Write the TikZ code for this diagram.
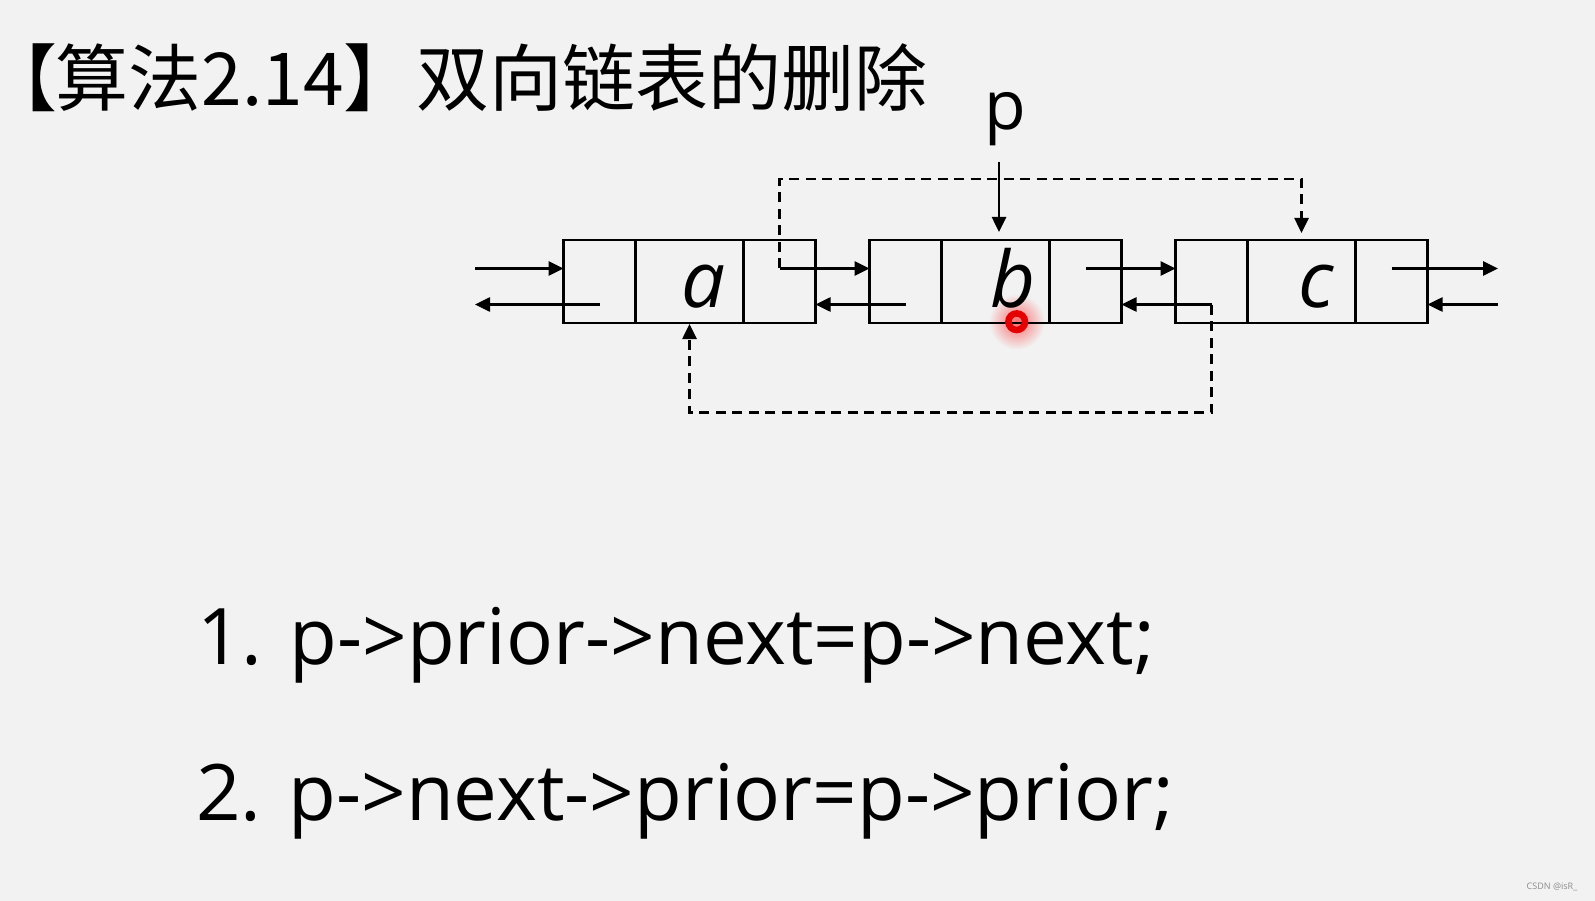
\documentclass[tikz,border=0pt]{standalone}
\usepackage{fontspec}
\setmainfont{Open Sans}
\newfontfamily\cjk{Noto Sans CJK SC}
\newfontfamily\cjkp[RawFeature=+palt]{Noto Sans CJK SC}
\usetikzlibrary{arrows.meta,calc}
\definecolor{bg}{RGB}{242,242,242}
\definecolor{ringred}{RGB}{228,0,0}
\begin{document}
\begin{tikzpicture}[x=1pt,y=-1pt,
  cell/.style={draw, line width=2.6pt, minimum height=83pt, inner sep=0pt, outer sep=0pt, anchor=west},
  lcell/.style={cell, minimum width=72pt},
  dcell/.style={cell, minimum width=108pt},
  ptr/.style={line width=2.6pt, -{Triangle[length=15pt,width=14pt]}},
  dptr/.style={ptr, dash pattern=on 10pt off 6.5pt},
  letter/.style={anchor=base, inner sep=0pt, font=\fontsize{78}{90}\selectfont\itshape},
  code/.style={anchor=base west, inner sep=0pt, font=\fontsize{78}{90}\selectfont},
]
\fill[bg] (0,0) rectangle (1595,901);
\useasboundingbox (0,0) rectangle (1595,901);

% cursor halo (behind)
\shade[inner color=red!55!bg, outer color=bg] (1016.7,321.7) circle (28);

% title
\node[anchor=base west, inner sep=0pt, font=\cjk\fontsize{73}{85}\selectfont] (title) at (19,106) {{\cjkp【}算法2.14】双向链表的删除};

% list nodes
\node[lcell] (aL) at (563.5,281.5) {};
\node[dcell] (aD) at (aL.east) {};
\node[lcell] (aR) at (aD.east) {};
\node[lcell] (bL) at (869.5,281.5) {};
\node[dcell] (bD) at (bL.east) {};
\node[lcell] (bR) at (bD.east) {};
\node[lcell] (cL) at (1175.5,281.5) {};
\node[dcell] (cD) at (cL.east) {};
\node[lcell] (cR) at (cD.east) {};

\node[letter] (ta) at (703.5,308) {a};
\node[letter] (tb) at (1013,307) {b};
\node[letter] (tc) at (1316.5,308) {c};

% pointer p
\node[anchor=base, inner sep=0pt, font=\fontsize{68}{74}\selectfont] (p) at (1005,130) {p};
\coordinate (pa) at (999,161.7);
\draw[ptr, shorten >=8pt] (pa) -- (pa |- bD.north);

% free ends
\coordinate (inA) at (475,268.5);
\coordinate (outA) at (475,304.5);
\coordinate (outC) at (1498,268.5);
\coordinate (inC) at (1498,304.5);
\coordinate (topY) at (0,179);
\coordinate (botY) at (0,412.7);

% solid pointers
\draw[ptr] (inA) -- (inA -| aL.west);
\draw[ptr] (aL.center |- outA) -- (outA);
\draw[ptr] (aR.center |- inA) -- (inA -| bL.west);
\draw[ptr] (bL.center |- outA) -- (outA -| aR.east);
\draw[ptr] (bR.center |- inA) -- (inA -| cL.west);
\draw[ptr] (cL.center |- outA) -- (outA -| bR.east);
\draw[ptr] (cR.center |- outC) -- (outC);
\draw[ptr] (inC) -- (inC -| cR.east);

% dashed (new) pointers
\draw[dptr, shorten >=7pt] (aR.center |- inA) -- (aR.center |- topY) -- (cD.north |- topY) -- (cD.north);
\draw[dptr, shorten >=1pt] (cL.center |- outA) -- (cL.center |- botY) -- (aD.south |- botY) -- (aD.south);

% cursor ring
\draw[ringred, line width=6.5pt] (1016.7,321.7) circle (8.3);

% code lines
\node[code] (l1) at (197,664) {1. p->prior->next=p->next;};
\node[code] (l2) at (196,820) {2. p->next->prior=p->prior;};

% watermark
\node[inner sep=0pt, text=black!45, font=\fontsize{9}{10}\selectfont] (wm) at (1552,887) {CSDN @isR\_};
\end{tikzpicture}
\end{document}
